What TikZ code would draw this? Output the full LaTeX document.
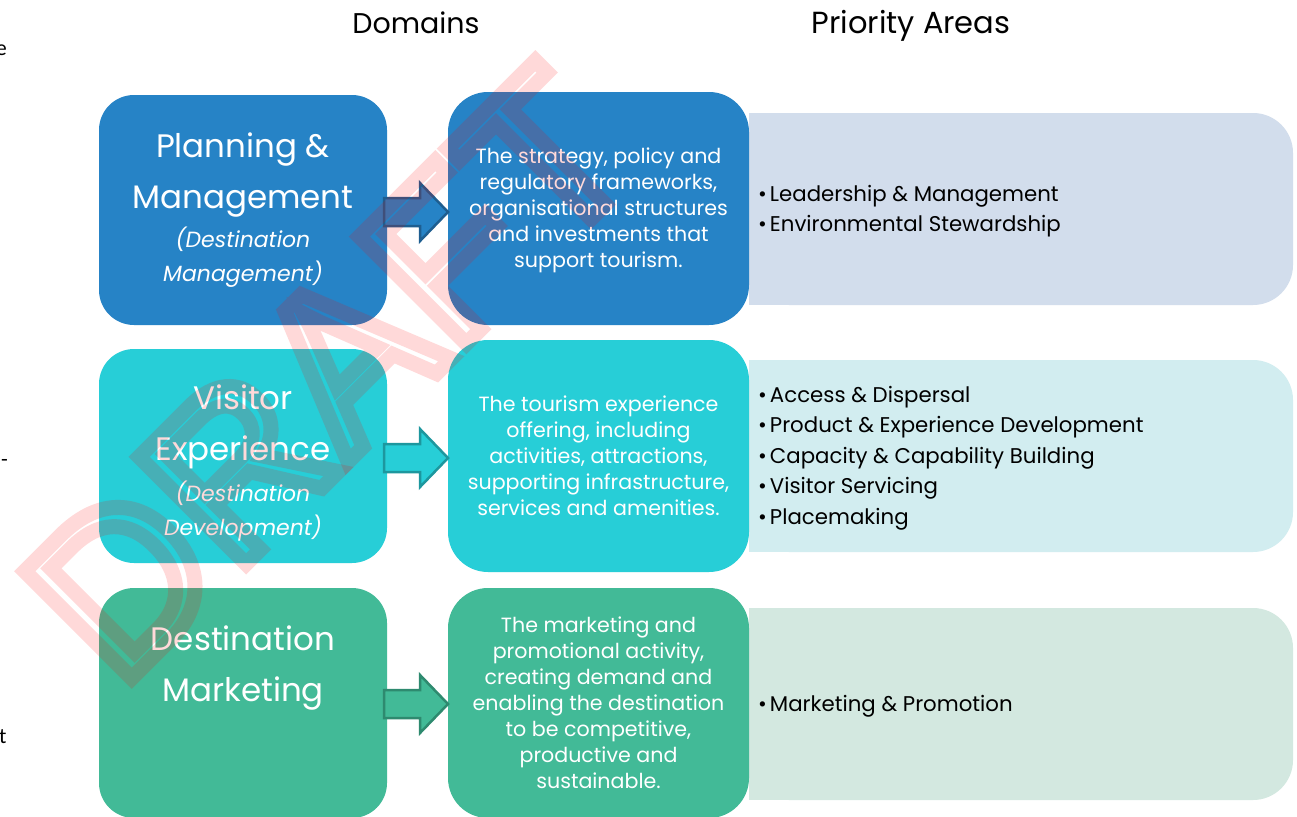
\documentclass[tikz,border=0pt]{standalone}
\usepackage{fontspec}
\setmainfont{Poppins}
\newfontfamily\wmfont{Liberation Sans}
\newfontfamily\pagefont{Carlito}
\usetikzlibrary{calc}
\definecolor{blueA}{HTML}{2683C6}
\definecolor{blueAd}{HTML}{1E5E90}
\definecolor{blueL}{HTML}{D2DDEC}
\definecolor{cyanA}{HTML}{27CED7}
\definecolor{cyanAd}{HTML}{1D979E}
\definecolor{cyanL}{HTML}{D2EDF0}
\definecolor{greenA}{HTML}{42BA97}
\definecolor{greenAd}{HTML}{2E8A6F}
\definecolor{greenL}{HTML}{D3E8E0}
\newcommand{\outlinedtext}[1]{\special{pdf:literal direct 1 Tr 15 w}#1\special{pdf:literal direct 0 Tr}}
\tikzset{
  lbox/.style={rounded corners=35pt, inner sep=0pt, outer sep=0pt, minimum width=288pt},
  mbox/.style={rounded corners=40pt, inner sep=0pt, outer sep=0pt, minimum width=301pt},
  rbox/.style={rounded corners=40pt, inner sep=0pt, outer sep=0pt, minimum width=544pt, minimum height=192pt},
  ttl/.style={text=white, align=center, inner sep=0pt, font=\fontsize{32.5}{51}\selectfont},
  sub/.style={text=white, align=center, inner sep=0pt, font=\itshape\fontsize{22}{34}\selectfont},
  mtxt/.style={text=white, align=center, inner sep=0pt, font=\fontsize{20.6}{26}\selectfont},
  rtxt/.style={text=black, align=left, anchor=west, inner sep=0pt, font=\fontsize{21.3}{30.5}\selectfont},
  hdr/.style={text=black, inner sep=0pt, anchor=base},
  stray/.style={text=black, inner sep=0pt, font=\pagefont\fontsize{22}{24}\selectfont},
  arrowA/.style={fill=blueA, draw=blueAd, line width=2.5pt, line join=miter},
  arrowB/.style={fill=cyanA, draw=cyanAd, line width=2.5pt, line join=miter},
  arrowC/.style={fill=greenA, draw=greenAd, line width=2.5pt, line join=miter},
}
\begin{document}
\begin{tikzpicture}[x=1pt, y=-1pt]
\useasboundingbox (0,0) rectangle (1297,816);
\fill[white] (0,0) rectangle (1297,816);

% stray page text at left edge
\node[stray, anchor=east] (s1) at (7,50) {e};
\node[stray, anchor=east] (s2) at (8,463) {-};
\node[stray, anchor=west] (s3) at (-1,737) {t};

% headers
\node[hdr, font=\fontsize{28.5}{30}\selectfont] (h1) at (416,34) {Domains};
\node[hdr, font=\fontsize{30.5}{32}\selectfont] (h2) at (911,34) {Priority Areas};

% right boxes
\node[rbox, fill=blueL] (R1) at (1021,209) {};
\fill[blueL] (R1.north west) rectangle ($(R1.south west)+(60,0)$);
\node[rbox, fill=cyanL] (R2) at (1021,456) {};
\fill[cyanL] (R2.north west) rectangle ($(R2.south west)+(60,0)$);
\node[rbox, fill=greenL] (R3) at (1021,704) {};
\fill[greenL] (R3.north west) rectangle ($(R3.south west)+(60,0)$);

% middle boxes
\node[mbox, fill=blueA, minimum height=233pt] (M1) at (598.5,208.5) {};
\node[mbox, fill=cyanA, minimum height=232pt] (M2) at (598.5,456) {};
\node[mbox, fill=greenA, minimum height=230pt] (M3) at (598.5,703) {};

% left boxes
\node[lbox, fill=blueA, minimum height=230pt] (L1) at (243,210) {};
\node[lbox, fill=cyanA, minimum height=214pt] (L2) at (243,456) {};
\node[lbox, fill=greenA, minimum height=230pt] (L3) at (243,703) {};

% block arrows
\draw[arrowA] ($(L1.east)+(-3,-12)$) -- ++(36,0) -- ++(0,-15) -- ($(M1.west)+(0,3.5)$) -- ++(-28,29) -- ++(0,-15) -- ++(-36,0) -- cycle;
\draw[arrowB] ($(L2.east)+(-3,-12)$) -- ++(36,0) -- ++(0,-15) -- ($(M2.west)+(0,2)$) -- ++(-28,29) -- ++(0,-15) -- ++(-36,0) -- cycle;
\draw[arrowC] ($(L3.east)+(-3,-13)$) -- ++(36,0) -- ++(0,-15) -- ($(M3.west)+(0,1)$) -- ++(-28,29) -- ++(0,-15) -- ++(-36,0) -- cycle;

% left texts
\node[ttl] (t1) at (243,175) {Planning \&\\Management};
\node[sub] (u1) at (243,257) {(Destination\\Management)};
\node[ttl] (t2) at (243,427) {Visitor\\Experience};
\node[sub] (u2) at (243,511) {(Destination\\Development)};
\node[ttl] (t3) at (243,668) {Destination\\Marketing};

% middle texts
\node[mtxt] (d1) at ($(M1.center)+(0,1.5)$) {The strategy, policy and\\regulatory frameworks,\\organisational structures\\and investments that\\support tourism.};
\node[mtxt] (d2) at (M2.center) {The tourism experience\\offering, including\\activities, attractions,\\supporting infrastructure,\\services and amenities.};
\node[mtxt] (d3) at (M3.center) {The marketing and\\promotional activity,\\creating demand and\\enabling the destination\\to be competitive,\\productive and\\sustainable.};

% right texts
\node[rtxt] (p1) at (758,211) {•\hspace{3pt}Leadership \& Management\\•\hspace{3pt}Environmental Stewardship};
\node[rtxt] (p2) at (758,458) {•\hspace{3pt}Access \& Dispersal\\•\hspace{3pt}Product \& Experience Development\\•\hspace{3pt}Capacity \& Capability Building\\•\hspace{3pt}Visitor Servicing\\•\hspace{3pt}Placemaking};
\node[rtxt] (p3) at (758,706) {•\hspace{3pt}Marketing \& Promotion};

% watermark
\begin{scope}[opacity=0.15]
\node[text=red, rotate=45, inner sep=0pt, font=\wmfont\fontsize{220}{220}\selectfont] (wm) at (329,374) {\outlinedtext{D\hspace{3pt}R\hspace{3pt}A\hspace{3pt}F\hspace{3pt}T}};
\end{scope}
\end{tikzpicture}
\end{document}
